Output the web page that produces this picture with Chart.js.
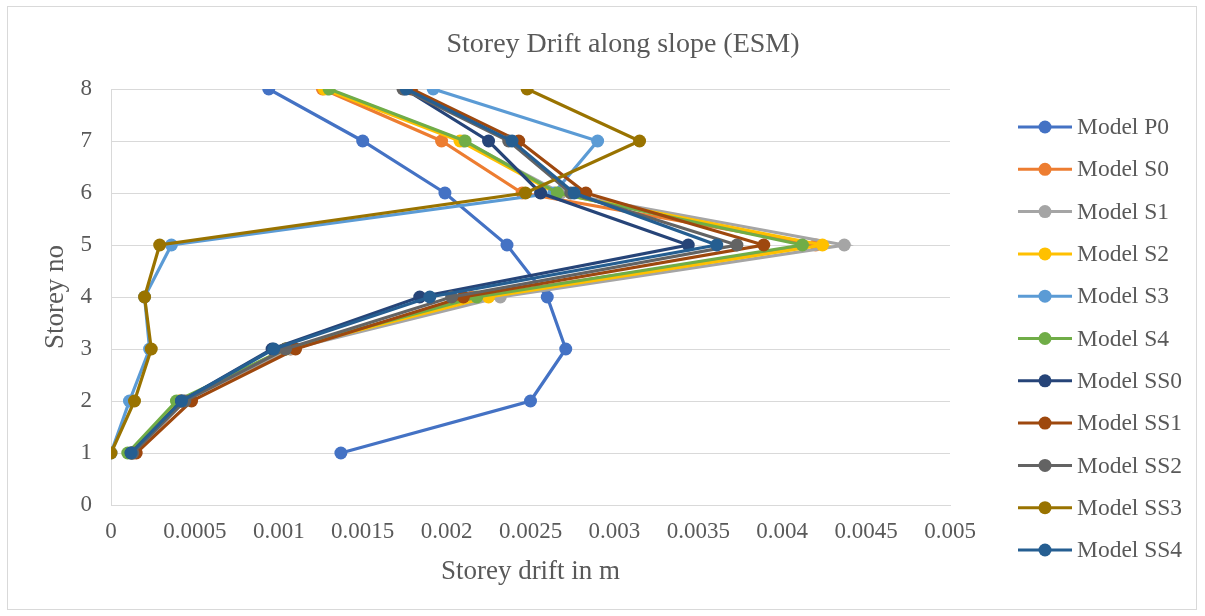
<!DOCTYPE html>
<html>
<head>
<meta charset="utf-8">
<script src="https://cdn.jsdelivr.net/npm/chart.js@4"></script>
<style>
  html, body { margin: 0; padding: 0; background: #fff; }
  .chart-box { position: absolute; left: 0; top: 0; width: 1205px; height: 616px; }
  .frame { position: absolute; left: 7px; top: 6px; width: 1190px; height: 604px; border: 1px solid #d9d9d9; box-sizing: border-box; }
</style>
</head>
<body>
<div class="frame"></div>
<div class="chart-box"><canvas class="drift-chart" width="1205" height="616"></canvas></div>
<script>
const storeys = [1, 2, 3, 4, 5, 6, 7, 8];

const modelNames = ['Model P0', 'Model S0', 'Model S1', 'Model S2', 'Model S3', 'Model S4',
    'Model SS0', 'Model SS1', 'Model SS2', 'Model SS3', 'Model SS4'];

const modelP0 = [0.00137, 0.00250, 0.00271, 0.00260, 0.00236, 0.00199, 0.00150, 0.00094];
const modelS0 = [0.00013, 0.00041, 0.00107, 0.00215, 0.00420, 0.00245, 0.00197, 0.00126];
const modelS1 = [0.00013, 0.00043, 0.00107, 0.00232, 0.00437, 0.00268, 0.00210, 0.00129];
const modelS2 = [0.00012, 0.00041, 0.00104, 0.00225, 0.00424, 0.00265, 0.00208, 0.00127];
const modelS3 = [0.00000, 0.00011, 0.00023, 0.00020, 0.00036, 0.00264, 0.00290, 0.00192];
const modelS4 = [0.00010, 0.00039, 0.00104, 0.00218, 0.00412, 0.00266, 0.00211, 0.00130];
const modelSS0 = [0.00012, 0.00042, 0.00096, 0.00184, 0.00344, 0.00256, 0.00225, 0.00175];
const modelSS1 = [0.00015, 0.00048, 0.00110, 0.00210, 0.00389, 0.00283, 0.00243, 0.00179];
const modelSS2 = [0.00013, 0.00044, 0.00104, 0.00203, 0.00373, 0.00274, 0.00237, 0.00174];
const modelSS3 = [0.00000, 0.00014, 0.00024, 0.00020, 0.00029, 0.00247, 0.00315, 0.00248];
const modelSS4 = [0.00012, 0.00042, 0.00097, 0.00190, 0.00361, 0.00276, 0.00239, 0.00176];

const xTicks = [0, 0.0005, 0.001, 0.0015, 0.002, 0.0025, 0.003, 0.0035, 0.004, 0.0045, 0.005];

const seriesValues = [modelP0, modelS0, modelS1, modelS2, modelS3, modelS4,
    modelSS0, modelSS1, modelSS2, modelSS3, modelSS4];
const colors = ['#4472C4', '#ED7D31', '#A5A5A5', '#FFC000', '#5B9BD5', '#70AD47',
    '#264478', '#9E480E', '#636363', '#997300', '#255E91'];

const serif = '"Liberation Serif", "Times New Roman", serif';
const textColor = '#595959';

// legend drawn by hand: line + marker + label, like the spreadsheet one
const sideLegend = {
    id: 'sideLegend',
    afterDraw(chart) {
        const ctx = chart.ctx;
        ctx.save();
        ctx.font = '23.5px ' + serif;
        ctx.textBaseline = 'middle';
        modelNames.forEach((name, i) => {
            const y = 127 + i * 42.3;
            ctx.strokeStyle = colors[i];
            ctx.lineWidth = 3;
            ctx.beginPath();
            ctx.moveTo(1018, y);
            ctx.lineTo(1072, y);
            ctx.stroke();
            ctx.fillStyle = colors[i];
            ctx.beginPath();
            ctx.arc(1045, y, 6.5, 0, Math.PI * 2);
            ctx.fill();
            ctx.fillStyle = textColor;
            ctx.fillText(name, 1077, y + 1);
        });
        ctx.font = '28px ' + serif;
        ctx.textAlign = 'center';
        ctx.fillText('Storey Drift along slope (ESM)', 623, 45);
        ctx.restore();
    }
};

document.addEventListener('DOMContentLoaded', () => {
    const ctx = document.querySelector('.drift-chart').getContext('2d');
    new Chart(ctx, {
        type: 'line',
        data: {
            datasets: seriesValues.map((vals, i) => ({
                label: modelNames[i],
                data: vals.map((v, k) => ({x: v, y: storeys[k]})),
                borderColor: colors[i],
                backgroundColor: colors[i],
                pointBackgroundColor: colors[i],
                pointBorderColor: colors[i],
                pointRadius: 6.5,
                pointBorderWidth: 0,
                borderWidth: 3.2,
                tension: 0,
                order: seriesValues.length - i,
            }))
        },
        options: {
            responsive: false,
            animation: false,
            layout: {padding: {left: 36, right: 255, top: 89, bottom: 24}},
            plugins: {
                legend: {display: false},
                title: {display: false},
                tooltip: {enabled: false},
            },
            scales: {
                x: {
                    type: 'linear',
                    min: 0,
                    max: 0.005,
                    afterBuildTicks: scale => { scale.ticks = xTicks.map(v => ({value: v})); },
                    afterFit: scale => { scale.height = 87; },
                    grid: {color: 'rgba(0,0,0,0)', drawTicks: false},
                    border: {display: true, color: '#d9d9d9', width: 1},
                    ticks: {
                        color: textColor,
                        font: {family: serif, size: 23},
                        padding: 13,
                        maxRotation: 0,
                        callback: v => String(+v.toFixed(4)),
                    },
                    title: {
                        display: true,
                        text: 'Storey drift in m',
                        color: textColor,
                        font: {family: serif, size: 27},
                        padding: {top: 4, bottom: 4},
                    },
                },
                y: {
                    type: 'linear',
                    min: 0,
                    max: 8,
                    afterFit: scale => { scale.width = 75; },
                    grid: {color: '#d9d9d9', lineWidth: 1, drawTicks: false},
                    border: {display: true, color: '#d9d9d9', width: 1},
                    ticks: {
                        stepSize: 1,
                        color: textColor,
                        font: {family: serif, size: 23},
                        padding: 19,
                    },
                    title: {
                        display: true,
                        text: 'Storey no',
                        color: textColor,
                        font: {family: serif, size: 27},
                        padding: {top: 4, bottom: 4},
                    },
                },
            },
        },
        plugins: [sideLegend],
    });
});
</script>
</body>
</html>
